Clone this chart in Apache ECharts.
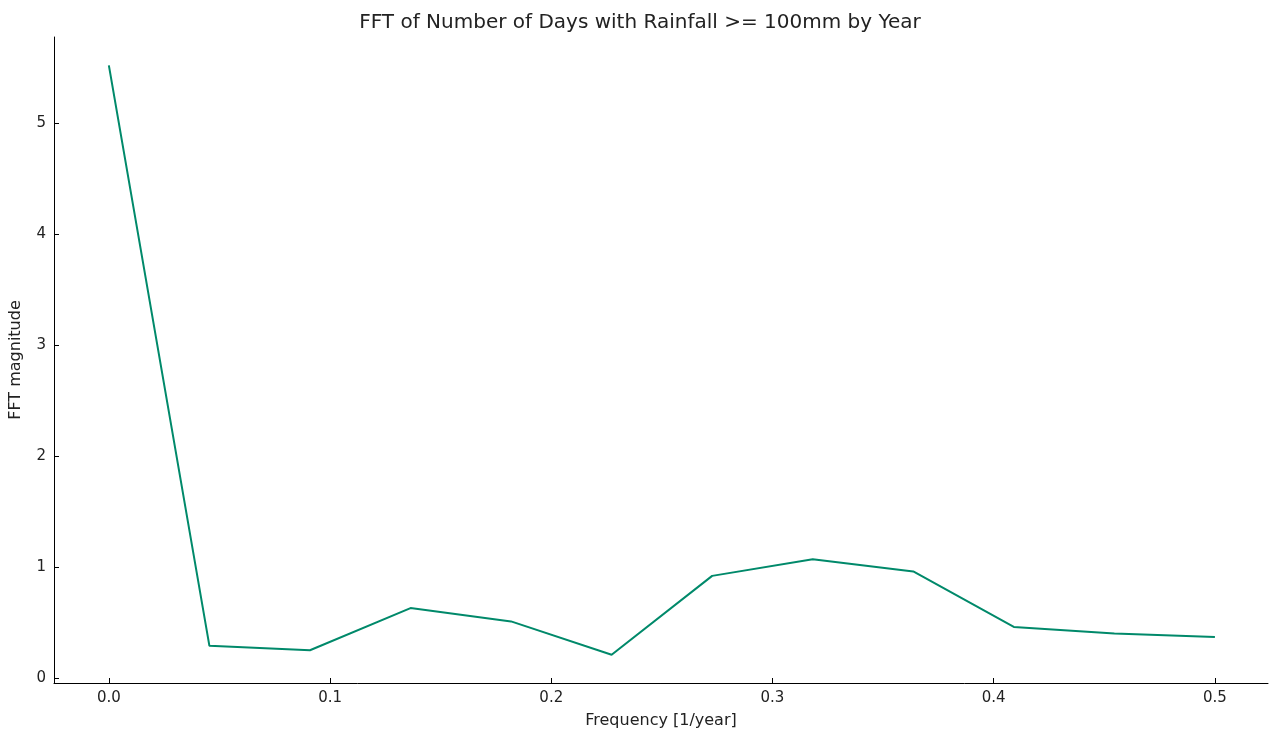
<!DOCTYPE html>
<html>
<head>
<meta charset="utf-8">
<script src="https://cdn.jsdelivr.net/npm/echarts@6/dist/echarts.min.js"></script>
<style>html,body{margin:0;padding:0;background:#fff}#chart{width:1280px;height:739px}</style>
</head>
<body>
<div id="chart"></div>
<script>
// frequencies k/22 for k = 0..11
const freqs = [0, 1/22, 2/22, 3/22, 4/22, 5/22, 6/22, 7/22, 8/22, 9/22, 10/22, 11/22];
const magnitudes = [5.52, 0.29, 0.25, 0.63, 0.51, 0.21, 0.92, 1.07, 0.96, 0.46, 0.40, 0.37];
const xTicks = [0, 0.1, 0.2, 0.3, 0.4, 0.5];
const yTicks = [0, 1, 2, 3, 4, 5];

let chart = echarts.init(document.querySelector('#chart'));
let font = 'DejaVu Sans';

let option = {
  animation: false,
  textStyle: { fontFamily: font },
  title: {
    text: 'FFT of Number of Days with Rainfall >= 100mm by Year',
    left: 'center',
    top: 8,
    textStyle: { fontFamily: font, fontSize: 20, fontWeight: 'normal', color: '#222' }
  },
  grid: { left: 50, right: 12, top: 37, bottom: 56 },
  xAxis: {
    type: 'value',
    min: -0.0248,
    max: 0.524,
    name: 'Frequency [1/year]',
    nameLocation: 'middle',
    nameGap: 30,
    nameTextStyle: { fontSize: 16, color: '#222' },
    axisLine: { onZero: false, lineStyle: { color: '#000' } },
    axisTick: { customValues: xTicks, inside: true, lineStyle: { color: '#000' } },
    axisLabel: { customValues: xTicks, fontSize: 15, color: '#222', formatter: v => v.toFixed(1) },
    splitLine: { show: false }
  },
  yAxis: {
    type: 'value',
    min: -0.045,
    max: 5.775,
    name: 'FFT magnitude',
    nameLocation: 'middle',
    nameGap: 30,
    nameTextStyle: { fontSize: 16, color: '#222' },
    axisLine: { show: true, onZero: false, lineStyle: { color: '#000' } },
    axisTick: { show: true, customValues: yTicks, inside: true, lineStyle: { color: '#000' } },
    axisLabel: { customValues: yTicks, fontSize: 15, color: '#222' },
    splitLine: { show: false }
  },
  series: [{
    type: 'line',
    data: freqs.map((f, i) => [f, magnitudes[i]]),
    showSymbol: false,
    lineStyle: { color: '#00896a', width: 2 },
    itemStyle: { color: '#00896a' }
  }]
};

chart.setOption(option);
</script>
</body>
</html>
